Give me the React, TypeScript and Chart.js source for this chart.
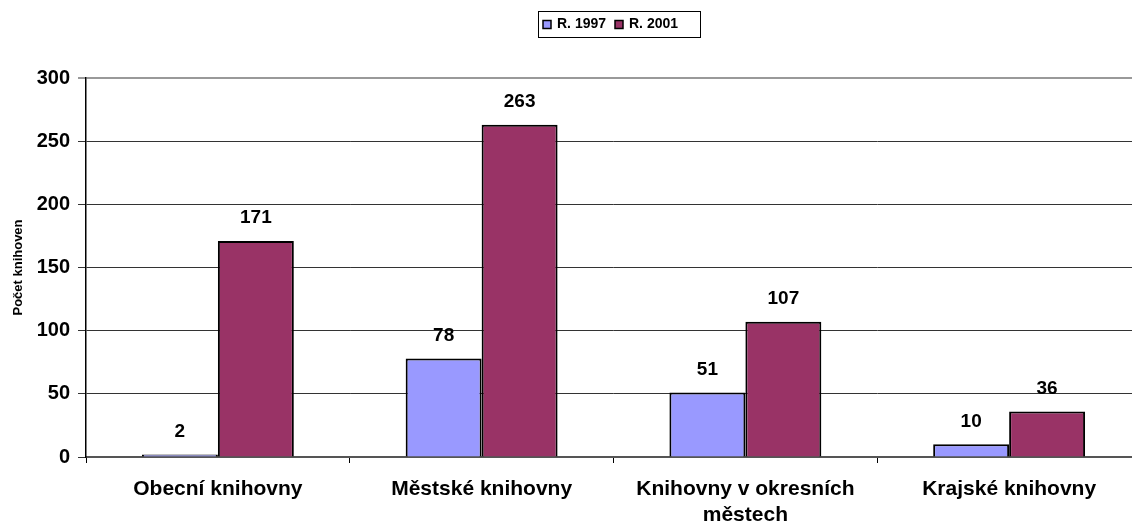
import React, { useEffect, useRef } from "react";
import { Chart, registerables } from "chart.js";

Chart.register(...registerables);

const categories: (string | string[])[] = [
  "Obecní knihovny",
  "Městské knihovny",
  ["Knihovny v okresních", "městech"],
  "Krajské knihovny",
];
const values1997 = [2, 78, 51, 10];
const values2001 = [171, 263, 107, 36];
const seriesNames = ["R. 1997", "R. 2001"];
const seriesColors = ["#9999FF", "#993366"];
const yTicks = [0, 50, 100, 150, 200, 250, 300];
const yTitle = "Počet knihoven";

const FONT = "Arial, 'Liberation Sans', sans-serif";

const valueLabels = {
  id: "valueLabels",
  afterDatasetsDraw(chart: any) {
    const ctx = chart.ctx;
    ctx.save();
    ctx.font = `bold 19px ${FONT}`;
    ctx.fillStyle = "#000";
    ctx.textAlign = "center";
    ctx.textBaseline = "middle";
    chart.data.datasets.forEach((ds: any, i: number) => {
      const meta = chart.getDatasetMeta(i);
      meta.data.forEach((el: any, j: number) => {
        ctx.fillText(String(ds.data[j]), el.x, el.y - 23);
      });
    });
    ctx.restore();
  },
};

const boxedLegend = {
  id: "boxedLegend",
  afterDraw(chart: any) {
    const ctx = chart.ctx;
    ctx.save();
    const left = 538;
    const top = 11;
    const right = 700;
    const bottom = 37;
    ctx.fillStyle = "#fff";
    ctx.fillRect(left, top, right - left, bottom - top);
    ctx.strokeStyle = "#000";
    ctx.lineWidth = 1;
    ctx.strokeRect(left + 0.5, top + 0.5, right - left, bottom - top);
    ctx.font = `bold 14px ${FONT}`;
    ctx.textBaseline = "middle";
    ctx.textAlign = "left";
    const cy = (top + bottom) / 2 + 0.5;
    let x = 543;
    chart.data.datasets.forEach((ds: any, i: number) => {
      ctx.fillStyle = seriesColors[i];
      ctx.fillRect(x, cy - 4, 8, 8);
      ctx.strokeStyle = "#000";
      ctx.lineWidth = 1.5;
      ctx.strokeRect(x, cy - 4, 8, 8);
      ctx.fillStyle = "#000";
      ctx.fillText(ds.label, x + 14, cy);
      x += 72;
    });
    ctx.restore();
  },
};

export default function App() {
  const ref = useRef<HTMLCanvasElement>(null);
  useEffect(() => {
    if (!ref.current) return;
    const chart = new Chart(ref.current, {
      type: "bar",
      data: {
        labels: categories,
        datasets: [
          {
            label: seriesNames[0],
            data: values1997,
            backgroundColor: seriesColors[0],
            borderColor: "#000",
            borderWidth: 2,
          },
          {
            label: seriesNames[1],
            data: values2001,
            backgroundColor: seriesColors[1],
            borderColor: "#000",
            borderWidth: 2,
          },
        ],
      },
      options: {
        animation: false,
        responsive: false,
        maintainAspectRatio: false,
        layout: { padding: { left: 0, right: 0, top: 78, bottom: 0 } },
        datasets: { bar: { categoryPercentage: 0.576, barPercentage: 1 } },
        plugins: {
          tooltip: { enabled: false },
          legend: { display: false },
        },
        scales: {
          x: {
            offset: true,
            grid: {
              offset: true,
              drawOnChartArea: false,
              drawTicks: true,
              tickLength: 6,
              color: "#000",
            },
            border: { color: "#555", width: 2 },
            ticks: {
              color: "#000",
              padding: 14,
              maxRotation: 0,
              autoSkip: false,
              font: { family: FONT, size: 21, weight: "bold", lineHeight: 1.2 },
            },
            afterFit(scale: any) {
              scale.height = 70;
            },
          },
          y: {
            min: 0,
            max: 300,
            afterBuildTicks(scale: any) {
              scale.ticks = yTicks.map((v) => ({ value: v }));
            },
            grid: {
              color: (c: any) => (c.tick && c.tick.value === 300 ? "#999" : "#333"),
              lineWidth: (c: any) => (c.tick && c.tick.value === 300 ? 2 : 1),
              tickLength: 8,
            },
            border: { color: "#000", width: 1.5 },
            ticks: {
              color: "#000",
              padding: 8,
              font: { family: FONT, size: 20, weight: "bold" },
            },
            title: {
              display: true,
              text: yTitle,
              color: "#000",
              font: { family: FONT, size: 13, weight: "bold", lineHeight: 1.2 },
              padding: { top: 11, bottom: 0 },
            },
            afterFit(scale: any) {
              scale.width = 86;
            },
          },
        },
      },
      plugins: [valueLabels, boxedLegend],
    });
    return () => chart.destroy();
  }, []);
  return (
    <div
      style={{
        position: "fixed",
        left: 0,
        top: 0,
        width: 1132,
        height: 527,
        overflow: "hidden",
        background: "#fff",
      }}
    >
      <canvas ref={ref} width={1141} height={527} style={{ width: 1141, height: 527, display: "block" }} />
    </div>
  );
}
